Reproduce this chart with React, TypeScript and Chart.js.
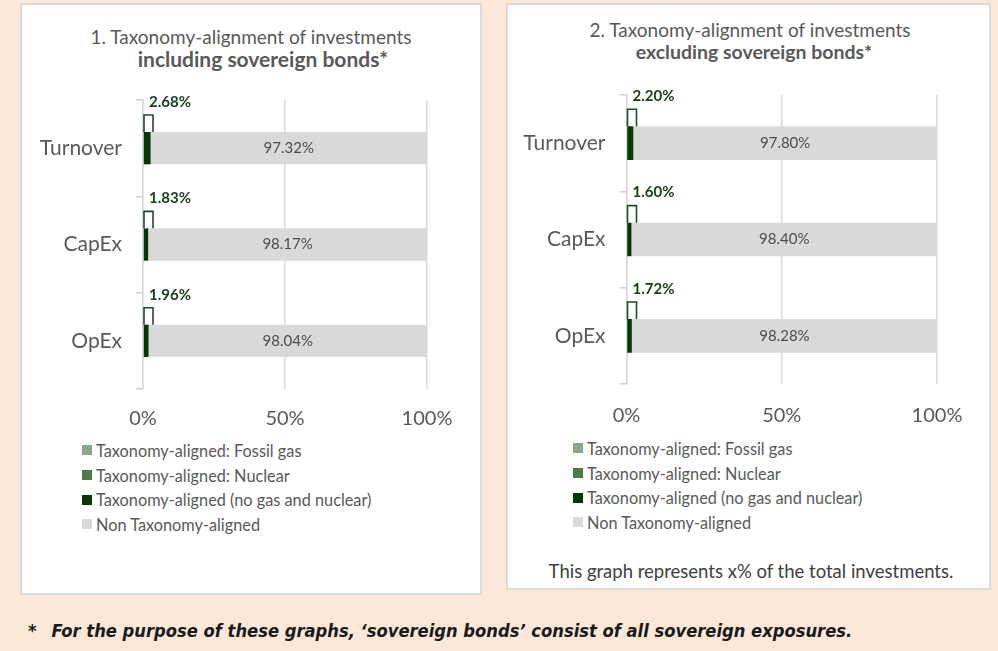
import React, { useEffect, useRef } from 'react';
import { Chart, registerables } from 'chart.js';

Chart.register(...registerables);

// ---------- data ----------
const categories = ['Turnover', 'CapEx', 'OpEx'];
const xTickLabels = ['0%', '50%', '100%'];
const legendLabels = [
  'Taxonomy-aligned: Fossil gas',
  'Taxonomy-aligned: Nuclear',
  'Taxonomy-aligned (no gas and nuclear)',
  'Non Taxonomy-aligned',
];
const legendColors = ['#8aa78a', '#4d7a4d', '#063806', '#d9d9d9'];

// chart 1: including sovereign bonds
const inclFossilGas = [0, 0, 0];
const inclNuclear = [0, 0, 0];
const inclAligned = [2.68, 1.83, 1.96];
const inclNonAligned = [97.32, 98.17, 98.04];

// chart 2: excluding sovereign bonds
const exclFossilGas = [0, 0, 0];
const exclNuclear = [0, 0, 0];
const exclAligned = [2.2, 1.6, 1.72];
const exclNonAligned = [97.8, 98.4, 98.28];

const title1 = ['1. Taxonomy-alignment of investments', 'including sovereign bonds*'];
const title2 = ['2. Taxonomy-alignment of investments', 'excluding sovereign bonds*'];
const note2 = 'This graph represents x% of the total investments.';
const footnote = 'For the purpose of these graphs, \u2018sovereign bonds\u2019 consist of all sovereign exposures.';

const FONT = 'Lato, "Open Sans", sans-serif';

const labelPlugin = {
  id: 'barLabels',
  afterDatasetsDraw(chart: any) {
    const ctx = chart.ctx;
    const xs = chart.scales.x;
    const ds = chart.data.datasets;
    const alMeta = chart.getDatasetMeta(0);
    const nonMeta = chart.getDatasetMeta(3);
    ctx.save();
    nonMeta.data.forEach((bar: any, i: number) => {
      const p = bar.getProps(['x', 'y', 'base'], true);
      const v = ds[3].data[i];
      ctx.fillStyle = '#4d4d4d';
      ctx.font = `15px ${FONT}`;
      ctx.textAlign = 'center';
      ctx.textBaseline = 'middle';
      ctx.fillText(v.toFixed(2) + '%', (p.x + p.base) / 2, p.y);
    });
    alMeta.data.forEach((bar: any, i: number) => {
      const p = bar.getProps(['x', 'y', 'base', 'height'], true);
      const total = ds[0].data[i] + ds[1].data[i] + ds[2].data[i];
      const x0 = xs.getPixelForValue(0);
      const top = p.y - p.height / 2;
      ctx.strokeStyle = '#1f4d1f';
      ctx.lineWidth = 1.6;
      ctx.beginPath();
      ctx.moveTo(x0 + 1, top);
      ctx.lineTo(x0 + 1, top - 17);
      ctx.lineTo(x0 + 10, top - 17);
      ctx.lineTo(x0 + 10, top);
      ctx.stroke();
      ctx.fillStyle = '#17421a';
      ctx.font = `bold 15px ${FONT}`;
      ctx.textAlign = 'left';
      ctx.textBaseline = 'middle';
      ctx.fillText(total.toFixed(2) + '%', x0 + 6, top - 30);
    });
    ctx.restore();
  },
};

type PanelChartProps = {
  left: number;
  top: number;
  width: number;
  height: number;
  yWidth: number;
  padRight: number;
  barPct: number;
  tickPad: number;
  gas: number[];
  nuclear: number[];
  aligned: number[];
  nonAligned: number[];
};

function PanelChart(props: PanelChartProps) {
  const ref = useRef<HTMLCanvasElement | null>(null);
  useEffect(() => {
    if (!ref.current) return;
    const chart = new Chart(ref.current, {
      type: 'bar',
      data: {
        labels: categories,
        datasets: [
          { label: legendLabels[2], data: props.aligned, backgroundColor: legendColors[2] },
          { label: legendLabels[0], data: props.gas, backgroundColor: legendColors[0] },
          { label: legendLabels[1], data: props.nuclear, backgroundColor: legendColors[1] },
          { label: legendLabels[3], data: props.nonAligned, backgroundColor: legendColors[3] },
        ],
      },
      options: {
        responsive: false,
        animation: false,
        indexAxis: 'y',
        layout: { padding: { top: 10, right: props.padRight, bottom: 0, left: 0 } },
        datasets: { bar: { categoryPercentage: 1, barPercentage: props.barPct, borderWidth: 0 } },
        plugins: { legend: { display: false }, tooltip: { enabled: false } },
        scales: {
          x: {
            stacked: true,
            min: 0,
            max: 100,
            ticks: {
              stepSize: 50,
              color: '#595959',
              font: { family: FONT, size: 20 },
              padding: props.tickPad,
              callback: (_v: any, i: number) => xTickLabels[i],
            },
            grid: { color: '#d9d9d9', lineWidth: 1.5, drawTicks: false },
            border: { display: false },
            afterFit: (s: any) => {
              s.height = 46;
              s.paddingLeft = 0;
              s.paddingRight = 0;
            },
          },
          y: {
            stacked: true,
            ticks: { color: '#595959', font: { family: FONT, size: 21 }, padding: 14 },
            grid: { drawOnChartArea: false, drawTicks: true, tickLength: 7, color: '#cfcfcf', lineWidth: 1.5 },
            border: { display: true, color: '#d9d9d9', width: 1.5 },
            afterFit: (s: any) => {
              s.width = props.yWidth;
              s.paddingTop = 0;
              s.paddingBottom = 0;
            },
          },
        },
      } as any,
      plugins: [labelPlugin],
    });
    return () => chart.destroy();
  }, []);
  return (
    <canvas
      ref={ref}
      width={props.width}
      height={props.height}
      style={{ position: 'absolute', left: props.left, top: props.top, width: props.width, height: props.height }}
    />
  );
}

function Legend({ left, top }: { left: number; top: number }) {
  return (
    <div style={{ position: 'absolute', left, top }}>
      {legendLabels.map((l, i) => (
        <div key={l} style={{ display: 'flex', alignItems: 'center', height: 24.7, whiteSpace: 'nowrap' }}>
          <span style={{ width: 10, height: 10, background: legendColors[i], display: 'inline-block', marginRight: 4 }} />
          <span style={{ fontFamily: FONT, fontSize: 16.3, color: '#595959' }}>{l}</span>
        </div>
      ))}
    </div>
  );
}

function Title({ lines, cx, top, size2, shift2 }: { lines: string[]; cx: number; top: number; size2: number; shift2: number }) {
  return (
    <div
      style={{
        position: 'absolute',
        left: cx - 220,
        width: 440,
        top,
        textAlign: 'center',
        fontFamily: FONT,
        fontSize: 19,
        lineHeight: '22px',
        color: '#595959',
      }}
    >
      <div>{lines[0]}</div>
      <div style={{ fontWeight: 700, fontSize: size2, position: 'relative', left: shift2 }}>{lines[1]}</div>
    </div>
  );
}

export default function App() {
  return (
    <div style={{ position: 'fixed', left: 0, top: 0, width: 998, height: 651, background: '#fbe8d8', overflow: 'hidden' }}>
      <div
        style={{
          position: 'absolute',
          left: 20,
          top: 3,
          width: 462,
          height: 592,
          boxSizing: 'border-box',
          border: '2px solid #dadada',
          background: '#fff',
        }}
      />
      <div
        style={{
          position: 'absolute',
          left: 506,
          top: 3,
          width: 485,
          height: 587,
          boxSizing: 'border-box',
          border: '2px solid #dadada',
          background: '#fff',
        }}
      />
      <Title lines={title1} cx={251} top={26} size2={21} shift2={12} />
      <Title lines={title2} cx={750} top={19} size2={19.5} shift2={4} />
      <PanelChart
        left={22}
        top={90}
        width={460}
        height={345}
        yWidth={121}
        padRight={55}
        barPct={0.335}
        tickPad={18}
        gas={inclFossilGas}
        nuclear={inclNuclear}
        aligned={inclAligned}
        nonAligned={inclNonAligned}
      />
      <PanelChart
        left={508}
        top={85}
        width={475}
        height={345}
        yWidth={118.5}
        padRight={46}
        barPct={0.35}
        tickPad={20}
        gas={exclFossilGas}
        nuclear={exclNuclear}
        aligned={exclAligned}
        nonAligned={exclNonAligned}
      />
      <Legend left={82} top={438} />
      <Legend left={573} top={436} />
      <div
        style={{
          position: 'absolute',
          left: 506,
          width: 490,
          top: 560,
          textAlign: 'center',
          fontFamily: FONT,
          fontSize: 18.5,
          color: '#404040',
        }}
      >
        {note2}
      </div>
      <div
        style={{
          position: 'absolute',
          left: 28,
          top: 620,
          fontFamily: '"Liberation Sans Narrow", "DejaVu Sans Condensed", sans-serif',
          fontSize: 18.2,
          fontWeight: 700,
          fontStyle: 'italic',
          color: '#1a1a1a',
          whiteSpace: 'nowrap',
        }}
      >
        <span style={{ fontStyle: 'normal', marginRight: 15 }}>*</span>
        {footnote}
      </div>
    </div>
  );
}
